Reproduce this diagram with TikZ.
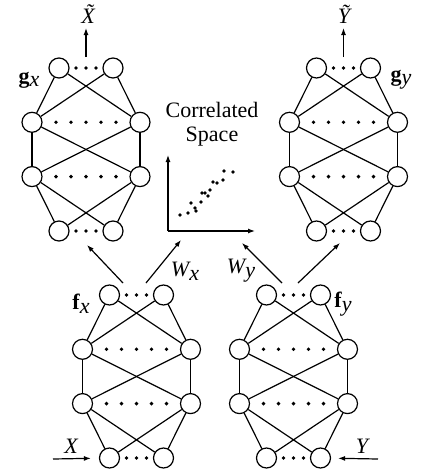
\documentclass[tikz,border=0pt]{standalone}
\usepackage{fontspec}
\setmainfont{Liberation Serif}
\newfontfamily\timesfont{Liberation Serif}
\usetikzlibrary{arrows.meta}
\tikzset{
  neuron/.style={circle, draw, minimum size=20pt, inner sep=0pt, line width=1.2pt},
  conn/.style={line width=1.2pt},
  arr/.style={line width=1.2pt, -{Latex[length=7pt,width=5pt]}},
  lbl/.style={font=\timesfont\fontsize{22}{24}\selectfont, inner sep=0pt}
}
\newcommand\drawnet[3]{%
  \node[neuron] (#1a1) at ({#2-27},{#3}) {};
  \node[neuron] (#1a2) at ({#2+27},{#3}) {};
  \node[neuron] (#1b1) at ({#2-54},{#3+54.3}) {};
  \node[neuron] (#1b2) at ({#2+54},{#3+54.3}) {};
  \node[neuron] (#1c1) at ({#2-54},{#3+108.6}) {};
  \node[neuron] (#1c2) at ({#2+54},{#3+108.6}) {};
  \node[neuron] (#1d1) at ({#2-27},{#3+163}) {};
  \node[neuron] (#1d2) at ({#2+27},{#3+163}) {};
  \foreach \s in {1,2}{\foreach \t in {1,2}{
    \draw[conn] (#1a\s) -- (#1b\t);
    \draw[conn] (#1b\s) -- (#1c\t);
    \draw[conn] (#1c\s) -- (#1d\t);}}
  \foreach \d in {-10,0,10}{
    \fill ({#2+\d},{#3}) circle (1.9pt);
    \fill ({#2+\d},{#3+163}) circle (1.9pt);}
  \foreach \d in {-30,-15,0,15,30}{
    \fill ({#2+\d},{#3+54.3}) circle (1.9pt);
    \fill ({#2+\d},{#3+108.6}) circle (1.9pt);}
}
\begin{document}
\begin{tikzpicture}[x=1pt,y=-1pt]
\useasboundingbox (0,0) rectangle (421,472);
\drawnet{gx}{86}{68}
\drawnet{gy}{343.5}{68}
\drawnet{fx}{136.5}{295}
\drawnet{fy}{293.5}{295}
% labels
\node[lbl] (lgx) at (29,80) {\textbf{g}\raisebox{-0.3ex}{\itshape x}};
\node[lbl] (lgy) at (401,80) {\textbf{g}\raisebox{-0.3ex}{\itshape y}};
\node[lbl] (lfx) at (81,304) {\textbf{f}\raisebox{-0.4ex}{\itshape x}};
\node[lbl] (lfy) at (343,304) {\textbf{f}\raisebox{-0.4ex}{\itshape y}};
\node[lbl] (lwx) at (185,271) {\itshape W\raisebox{-0.4ex}{x}};
\node[lbl] (lwy) at (241,271) {\itshape W\raisebox{-0.4ex}{y}};
% outputs
\node[lbl] (xt) at (88,14) {\itshape X\char"0303};
\node[lbl] (yt) at (344,14) {\itshape Y\char"0303};
\coordinate (gxtop) at (86,57);
\coordinate (gxout) at (86,28);
\coordinate (gytop) at (343.5,57);
\coordinate (gyout) at (343.5,28);
\draw[arr] (gxtop) -- (gxout);
\draw[arr] (gytop) -- (gyout);
% correlated space
\node[lbl, align=center] (cs) at (212,124) {Correlated\\Space};
\coordinate (org) at (168,231);
\coordinate (yax) at (168,155);
\coordinate (xax) at (255,231);
\draw[arr] (org) -- (yax);
\draw[arr] (org) -- (xax);
\foreach \p in {(180,215),(188,213),(191,203),(195,208),(196,211),(201,202),(202,193),(205,193),(208,196),(210,190),(213,182),(217,183),(223,180),(224,171),(233,172)}
  \fill \p circle (1.9pt);
% connectors between networks
\coordinate (fxl) at (123,283);
\coordinate (fxr) at (146,283);
\coordinate (fyl) at (282,283);
\coordinate (fyr) at (298,283);
\coordinate (gxin) at (87,245);
\coordinate (csl) at (181,240);
\coordinate (csr) at (242,243);
\coordinate (gyin) at (340,243);
\draw[arr] (fxl) -- (gxin);
\draw[arr] (fxr) -- (csl);
\draw[arr] (fyl) -- (csr);
\draw[arr] (fyr) -- (gyin);
% inputs
\node[lbl] (lx) at (71,446) {\itshape X};
\node[lbl] (ly) at (362,446) {\itshape Y};
\coordinate (xsrc) at (53,459);
\coordinate (ysrc) at (378,459);
\draw[arr, shorten >=8pt] (xsrc) -- (fxd1);
\draw[arr, shorten >=7pt] (ysrc) -- (fyd2);
\end{tikzpicture}
\end{document}
